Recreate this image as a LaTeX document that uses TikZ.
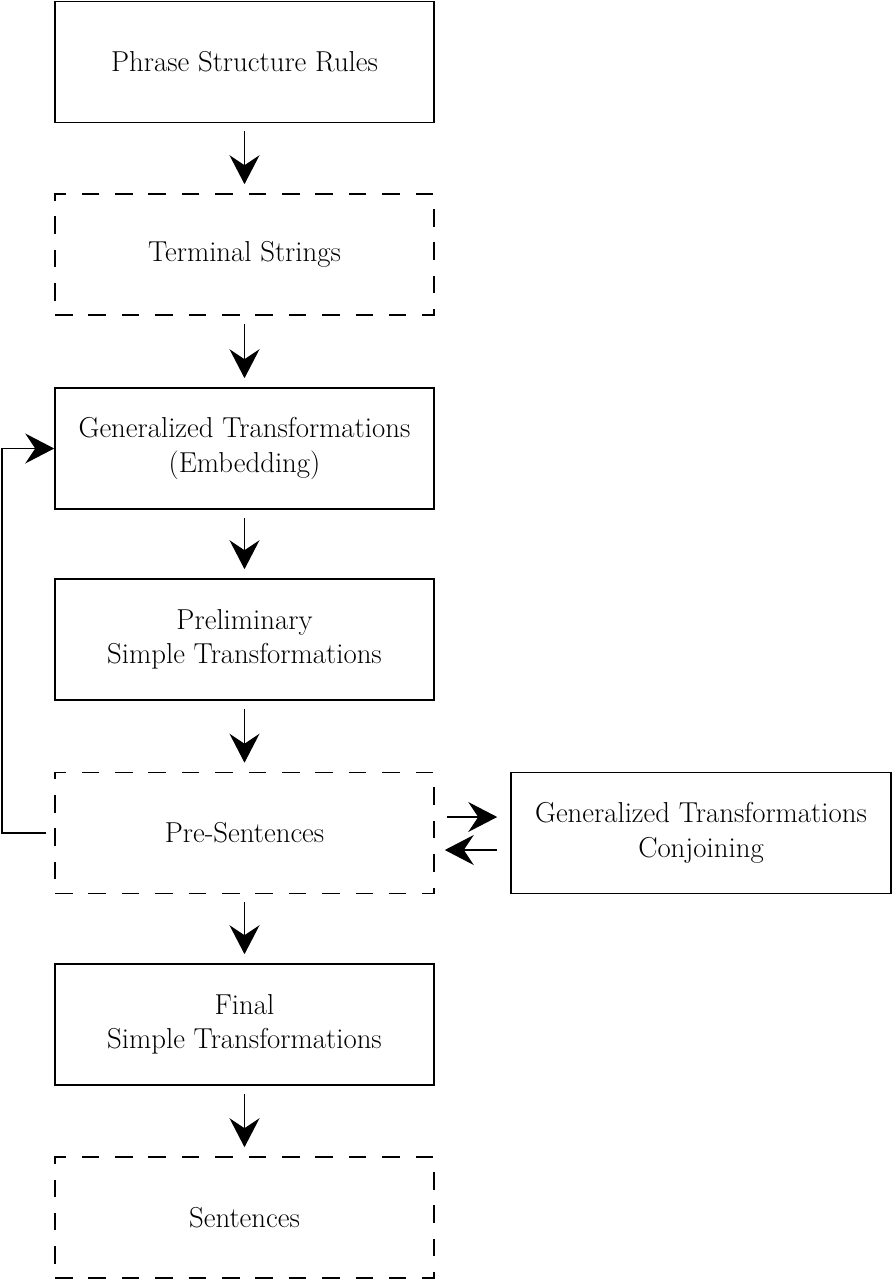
\documentclass[tikz,border=0pt]{standalone}
\usetikzlibrary{arrows.meta}
\begin{document}
\begin{tikzpicture}[
    stagebox/.style={draw, line width=0.9pt, minimum width=7.58cm, minimum height=2.42cm,
        align=center, font=\fontsize{16.4}{19.6}\selectfont},
    dashbox/.style={stagebox, dash pattern=on 10pt off 9pt},
    flow/.style={line width=0.9pt, -{Stealth[length=0.58cm, width=0.6cm, inset=0.2cm]}}
]
            \useasboundingbox (0, 0) rectangle (17.86, -25.6);

            % Main column of stages
            \node[stagebox] (rules) at (4.89, -1.24) {Phrase Structure Rules};
            \node[dashbox] (terminal) at (4.89, -5.09) {Terminal Strings};
            \node[stagebox] (embed) at (4.89, -8.97) {Generalized Transformations\\(Embedding)};
            \node[stagebox] (prelim) at (4.89, -12.79) {Preliminary\\Simple Transformations};
            \node[dashbox] (present) at (4.89, -16.66) {Pre-Sentences};
            \node[stagebox] (final) at (4.89, -20.49) {Final\\Simple Transformations};
            \node[dashbox] (sentences) at (4.89, -24.35) {Sentences};

            % Side stage
            \node[stagebox, minimum width=7.6cm] (conjoin) at (14.02, -16.66) {Generalized Transformations\\Conjoining};

            % Downward arrows
            \foreach \a/\b in {rules/terminal, terminal/embed, embed/prelim, prelim/present, present/final, final/sentences} {
                \draw[flow, shorten <=0.16cm, shorten >=0.18cm] (\a.south) -- (\b.north);
            }

            % Loop back to embedding
            \coordinate (loopstart) at ([xshift=-0.16cm]present.west);
            \draw[flow] (loopstart) -- (0.04, -16.66) |- (embed.west);

            % Arrows to and from conjoining
            \draw[flow, shorten <=0.24cm, shorten >=0.26cm] ([yshift=0.32cm]present.east) -- ([yshift=0.32cm]conjoin.west);
            \draw[flow, shorten <=0.26cm, shorten >=0.2cm] ([yshift=-0.34cm]conjoin.west) -- ([yshift=-0.34cm]present.east);
        \end{tikzpicture}
\end{document}
